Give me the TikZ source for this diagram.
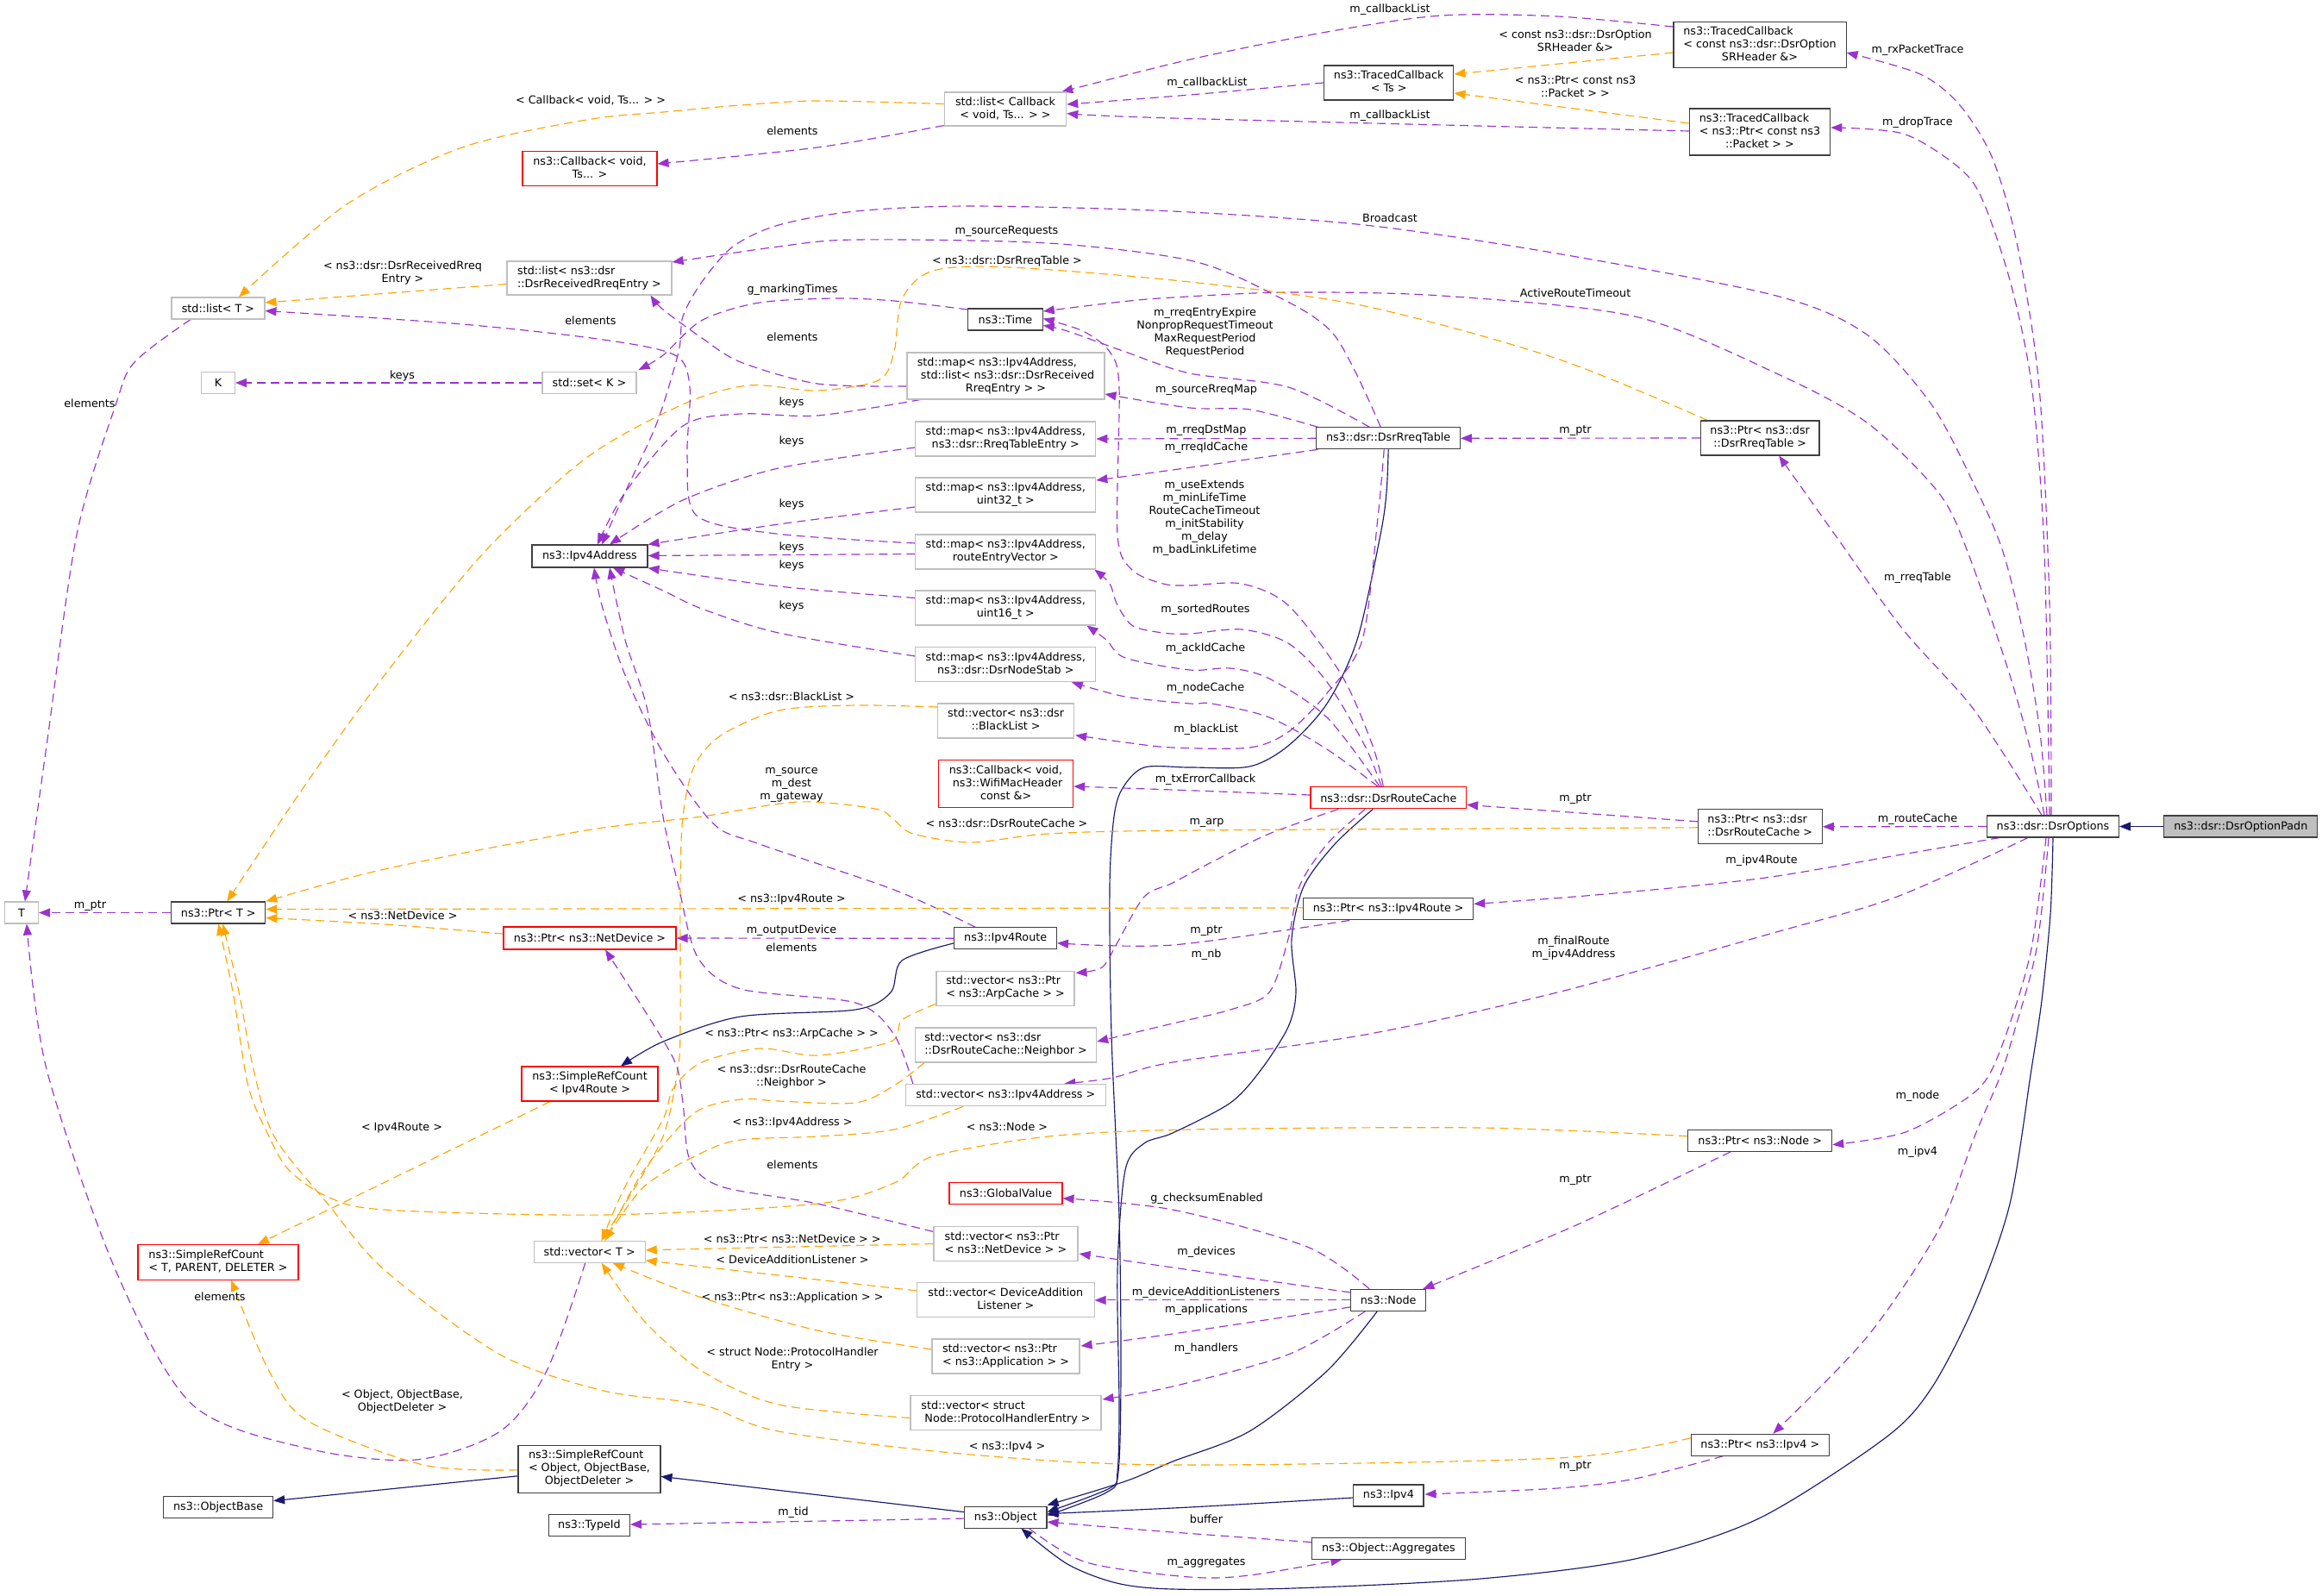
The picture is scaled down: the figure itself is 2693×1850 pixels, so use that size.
\documentclass[tikz,border=0pt]{standalone}
\usepackage{fontspec}
\setmainfont{DejaVu Sans}
\usetikzlibrary{arrows.meta,backgrounds}
\definecolor{dpurple}{HTML}{9A32CD}
\definecolor{dorange}{HTML}{FFA500}
\definecolor{dnavy}{HTML}{191970}
\definecolor{bgray}{HTML}{BFBFBF}
\definecolor{bdark}{HTML}{404040}
\newcommand{\dfont}{\fontsize{12.75}{15}\selectfont}
\newcommand{\twol}[2]{\begin{tabular}{@{}l@{}}#1\\\multicolumn{1}{@{}c@{}}{#2}\end{tabular}}
\newcommand{\threel}[3]{\begin{tabular}{@{}l@{}}#1\\#2\\\multicolumn{1}{@{}c@{}}{#3}\end{tabular}}
\begin{document}
\begin{tikzpicture}[x=1pt,y=-1pt,
 box/.style={draw=bdark, fill=white, line width=1.05pt, inner sep=0pt, font=\dfont, align=center},
 bbox/.style={box, minimum height=25},
 gbox/.style={box, draw=bgray},
 rbox/.style={box, draw=red},
 mem/.style={draw=dpurple, line width=1.15pt, dash pattern=on 10pt off 6pt, -{Triangle[length=13pt,width=10pt]}},
 tpl/.style={mem, draw=dorange},
 inh/.style={draw=dnavy, line width=1.15pt, -{Triangle[length=13pt,width=10pt]}},
 lab/.style={font=\dfont, align=center, inner sep=0pt}
]
\useasboundingbox (0,0) rectangle (2693,1850);

% ---------------- nodes ----------------
\node[bbox, fill=bgray, minimum width=178] (padn) at (2598.8,958.5) {ns3::dsr::DsrOptionPadn};
\node[bbox, minimum width=153] (opts) at (2381,958.5) {ns3::dsr::DsrOptions};
\node[box, minimum width=200, minimum height=53.5] (tcsr) at (2041,52) {\threel{ns3::TracedCallback}{< const ns3::dsr::DsrOption}{SRHeader \&>}};
\node[box, minimum width=150.5, minimum height=40] (tcts) at (1610.7,96) {\twol{ns3::TracedCallback}{< Ts >}};
\node[box, minimum width=163.5, minimum height=54] (tcpk) at (2041,153) {\threel{ns3::TracedCallback}{< ns3::Ptr< const ns3}{::Packet > >}};
\node[gbox, minimum width=141.5, minimum height=39] (lcb) at (1166,126.5) {\twol{std::list< Callback}{< void, Ts... > >}};
\node[rbox, minimum width=156, minimum height=40] (cbts) at (684,195.5) {\twol{ns3::Callback< void,}{Ts... >}};
\node[gbox, minimum width=191, minimum height=39] (lrre) at (683.5,322.5) {\twol{std::list< ns3::dsr}{::DsrReceivedRreqEntry >}};
\node[gbox, minimum width=108, minimum height=25] (listT) at (253,357.5) {std::list< T >};
\node[gbox, minimum width=39, minimum height=25] (K) at (253,444) {K};
\node[gbox, minimum width=109, minimum height=25] (setK) at (683.5,444) {std::set< K >};
\node[gbox, minimum width=39, minimum height=25] (T) at (25,1058.5) {T};
\node[bbox, minimum width=109] (ptrT) at (253.3,1058.5) {ns3::Ptr< T >};
\node[bbox, minimum width=86.5] (time) at (1166,370.5) {ns3::Time};
\node[gbox, minimum width=229, minimum height=54] (map1) at (1166.5,436) {\threel{std::map< ns3::Ipv4Address,}{\ std::list< ns3::dsr::DsrReceived}{RreqEntry > >}};
\node[gbox, minimum width=209, minimum height=40] (map2) at (1166.3,509) {\twol{std::map< ns3::Ipv4Address,}{ns3::dsr::RreqTableEntry >}};
\node[gbox, minimum width=209, minimum height=40] (map3) at (1166.3,574) {\twol{std::map< ns3::Ipv4Address,}{uint32\_t >}};
\node[gbox, minimum width=209, minimum height=40] (map4) at (1166.3,640) {\twol{std::map< ns3::Ipv4Address,}{routeEntryVector >}};
\node[gbox, minimum width=209, minimum height=40] (map5) at (1166.3,705) {\twol{std::map< ns3::Ipv4Address,}{uint16\_t >}};
\node[gbox, minimum width=209, minimum height=40] (map6) at (1166.3,770.6) {\twol{std::map< ns3::Ipv4Address,}{ns3::dsr::DsrNodeStab >}};
\node[bbox, minimum width=134, minimum height=26] (ipv4a) at (684,645) {ns3::Ipv4Address};
\node[bbox, minimum width=166.5] (rreqt) at (1610.2,508.3) {ns3::dsr::DsrRreqTable};
\node[box, minimum width=137.5, minimum height=40] (prreq) at (2041.2,508) {\twol{ns3::Ptr< ns3::dsr}{::DsrRreqTable >}};
\node[gbox, minimum width=158, minimum height=40] (vbl) at (1166.6,836) {\twol{std::vector< ns3::dsr}{::BlackList >}};
\node[rbox, minimum width=156, minimum height=55] (cbwifi) at (1166.6,909) {\threel{ns3::Callback< void,}{\ ns3::WifiMacHeader}{const \&>}};
\node[rbox, minimum width=180.6, minimum height=25] (rcache) at (1610.3,925.4) {ns3::dsr::DsrRouteCache};
\node[box, minimum width=144, minimum height=40] (prc) at (2041.3,958.8) {\twol{ns3::Ptr< ns3::dsr}{::DsrRouteCache >}};
\node[bbox, minimum width=197] (pipr) at (1610.2,1054.4) {ns3::Ptr< ns3::Ipv4Route >};
\node[bbox, minimum width=118.5] (ipr) at (1166.2,1088.3) {ns3::Ipv4Route};
\node[rbox, minimum width=200, minimum height=26] (pnd) at (684,1088) {ns3::Ptr< ns3::NetDevice >};
\node[gbox, minimum width=160, minimum height=40] (varp) at (1166,1146.3) {\twol{std::vector< ns3::Ptr}{< ns3::ArpCache > >}};
\node[gbox, minimum width=210, minimum height=40] (vnb) at (1166.6,1212) {\twol{std::vector< ns3::dsr}{::DsrRouteCache::Neighbor >}};
\node[rbox, minimum width=158, minimum height=40] (srcIpr) at (684,1257) {\twol{ns3::SimpleRefCount}{< Ipv4Route >}};
\node[gbox, minimum width=232, minimum height=25.5] (vipa) at (1166.3,1270.2) {std::vector< ns3::Ipv4Address >};
\node[bbox, minimum width=167] (pnode) at (2041.2,1322.7) {ns3::Ptr< ns3::Node >};
\node[rbox, minimum width=131, minimum height=25] (gv) at (1166.5,1383.8) {ns3::GlobalValue};
\node[gbox, minimum width=167, minimum height=40] (vnd) at (1166.5,1442.5) {\twol{std::vector< ns3::Ptr}{< ns3::NetDevice > >}};
\node[gbox, minimum width=129, minimum height=25] (vecT) at (683.7,1451.8) {std::vector< T >};
\node[rbox, minimum width=186, minimum height=40.5] (srcT) at (253,1463.8) {\twol{ns3::SimpleRefCount}{< T, PARENT, DELETER >}};
\node[gbox, minimum width=205.5, minimum height=40] (vdal) at (1166.3,1507.9) {\twol{std::vector< DeviceAddition}{Listener >}};
\node[gbox, minimum width=171, minimum height=40] (vapp) at (1166.5,1573) {\twol{std::vector< ns3::Ptr}{< ns3::Application > >}};
\node[gbox, minimum width=221, minimum height=40] (vph) at (1166.5,1638.5) {\twol{std::vector< struct}{\ Node::ProtocolHandlerEntry >}};
\node[bbox, minimum width=160] (pipv4) at (2041.3,1675.7) {ns3::Ptr< ns3::Ipv4 >};
\node[bbox, minimum width=87] (nnode) at (1610.2,1507.9) {ns3::Node};
\node[bbox, minimum width=81.2] (ipv4) at (1610.4,1734.5) {ns3::Ipv4};
\node[box, minimum width=165, minimum height=54.5] (srcObj) at (683.5,1703.8) {\threel{ns3::SimpleRefCount}{< Object, ObjectBase,}{ObjectDeleter >}};
\node[bbox, minimum width=127] (objb) at (253.1,1747.6) {ns3::ObjectBase};
\node[bbox, minimum width=94] (typeid) at (683.5,1769) {ns3::TypeId};
\node[bbox, minimum width=95.2] (object) at (1166.4,1759.6) {ns3::Object};
\node[bbox, minimum width=177.7] (agg) at (1610.4,1795.6) {ns3::Object::Aggregates};

% ---------------- edges (behind the boxes) ----------------
\begin{scope}[on background layer]
\fill[white] (0,0) rectangle (2693,1850);
\draw[inh] (padn.west) -- (opts.east);
% DsrOptions
\draw[mem] plot[smooth] coordinates {([shift={(-2,0)}]opts.north) (2377,700) (2365,449) (2340,286) (2311,184) (2273,122) (2227,86) ([shift={(0,9)}]tcsr.east)};
\draw[mem] plot[smooth] coordinates {([shift={(-4,0)}]opts.north) (2371,640) (2356.5,449) (2331.5,327) (2298,229) (2269,192) (2207,155) ([shift={(0,-5)}]tcpk.east)};
\draw[mem] plot[smooth] coordinates {([shift={(-7,0)}]opts.north) (2366,850) (2348,742) (2323,640) (2290,563) (2240,469) (2165,388) (2060,343) (1806,294) (1583,261) (1360,245) (1126,239) (992,245) (903,261) (850,286) (814,327) (792,367) (787,408) (762,490) (725,571) ([shift={(14,0)}]ipv4a.north)};
\draw[mem] plot[smooth] coordinates {([shift={(-10,0)}]opts.north) (2355,870) (2330,780) (2282,640) (2248,571) (2165,490) (2060,433) (1896,367) (1672,343) (1494,339) (1360,345) (1300,350) ([shift={(0,-9.5)}]time.east)};
\draw[mem] plot[smooth] coordinates {([shift={(-13,0)}]opts.north) (2290,824) (2207,730) (2128,620) ([shift={(22,0)}]prreq.south)};
\draw[mem] (opts.west) -- (prc.east);
\draw[mem] plot[smooth] coordinates {([shift={(-62,0)}]opts.south) (2200,992) (2040,1019) (1850,1038) ([shift={(0,-6)}]pipr.east)};
\draw[mem] plot[smooth] coordinates {([shift={(-29,0)}]opts.south) (2200,1040) (2060,1081) (1806,1151) (1583,1200) (1360,1232) (1290,1250) ([shift={(68,0)}]vipa.north)};
\draw[mem] plot[smooth] coordinates {([shift={(-8,0)}]opts.south) (2356,1100) (2330,1190) (2305,1250) (2273,1279) (2207,1314) ([shift={(0,5)}]pnode.east)};
\draw[mem] plot[smooth] coordinates {([shift={(-5,0)}]opts.south) (2362,1100) (2335,1200) (2319,1250) (2290,1318) (2248,1427) (2165,1551) ([shift={(15,0)}]pipv4.north)};
\draw[inh] plot[smooth] coordinates {(opts.south) (2378,1060) (2368,1160) (2356,1240) (2331,1396) (2290,1513) (2240,1610) (2186,1668) (2040,1761) (1896,1808) (1717,1831) (1500,1842) (1360,1843) (1295,1836) (1238,1814) ([shift={(18,0)}]object.south)};
% traced callbacks
\draw[tpl] ([shift={(0,9)}]tcsr.west) -- ([shift={(0,-10)}]tcts.east);
\draw[tpl] ([shift={(0,-10)}]tcpk.west) -- ([shift={(0,12)}]tcts.east);
\draw[mem] plot[smooth] coordinates {([shift={(0,-21)}]tcsr.west) (1806,19) (1672,18) (1539,37) (1380,69) ([shift={(-6,0)}]lcb.north east)};
\draw[mem] plot[smooth] coordinates {(tcts.west) (1380,110) ([shift={(0,-5.5)}]lcb.east)};
\draw[mem] plot[smooth] coordinates {([shift={(0,-1)}]tcpk.west) (1360,137) ([shift={(0,5)}]lcb.east)};
\draw[mem] plot[smooth] coordinates {([shift={(0,-1)}]lcb.south west) (948,171) ([shift={(0,-5.5)}]cbts.east)};
\draw[tpl] plot[smooth] coordinates {([shift={(0,-6)}]lcb.west) (948,117) (859,122) (769,130) (680,139) (536,171) (402,237) ([shift={(24,0)}]listT.north)};
\draw[tpl] ([shift={(0,7)}]lrre.west) -- ([shift={(0,-6.5)}]listT.east);
\draw[mem] (setK.west) -- (K.east);
\draw[mem] plot[smooth] coordinates {([shift={(-32,0)}]listT.south) (156,420) (134,470) (89,620) (54,865) ([shift={(4,0)}]T.north)};
\draw[mem] (ptrT.west) -- (T.east);
% rreq table
\draw[mem] (prreq.west) -- (rreqt.east);
\draw[tpl] plot[smooth] coordinates {([shift={(-61,0)}]prreq.north) (1806,416) (1583,355) (1380,327) (1171,310) (1082,314) (1046,347) (1037,408) (1019,441) (948,453) (868,447) (792,469) (680,531) (562,640) (446,783) (357,906) ([shift={(10,0)}]ptrT.north)};
\draw[mem] plot[smooth] coordinates {([shift={(-9,0)}]rreqt.north) (1547,388) (1472,339) (1380,302) (1216,282) (992,278) (903,286) ([shift={(0,-18.5)}]lrre.east)};
\draw[mem] plot[smooth] coordinates {([shift={(-22,0)}]rreqt.north) (1494,449) (1380,433) (1305,408) (1238,384) ([shift={(0,7)}]time.east)};
\draw[mem] plot[smooth] coordinates {([shift={(2,0)}]rreqt.north west) (1450,475) (1380,473) ([shift={(0,21)}]map1.east)};
\draw[mem] (rreqt.west) -- (map2.east);
\draw[mem] plot[smooth] coordinates {([shift={(2,0)}]rreqt.south west) (1360,545) ([shift={(0,-17)}]map3.east)};
\draw[inh] plot[smooth] coordinates {(rreqt.south) (1608,571) (1601,620) (1574,742) (1539,816) (1494,865) (1449,889) (1380,890) (1327,890) (1302,914) (1292,947) (1287,1028) (1289,1200) (1298,1411) (1300,1590) (1297,1707) (1283,1731) ([shift={(0,-2)}]object.east)};
\draw[mem] plot[smooth] coordinates {([shift={(-5,0)}]rreqt.south) (1598,600) (1580,742) (1539,804) (1494,849) (1449,867) (1360,867) (1305,861) ([shift={(1,16.7)}]vbl.east)};
% time, maps
\draw[mem] plot[smooth] coordinates {([shift={(0,-11.5)}]time.west) (1037,349) (970,346) (881,351) (814,371.5) (769,412) ([shift={(2,-15)}]setK.east)};
\draw[mem] plot[smooth] coordinates {([shift={(0,12)}]map1.west) (948,445) (859,420) (814,392) (769,359) ([shift={(-25,0)}]lrre.south east)};
\draw[mem] plot[smooth] coordinates {([shift={(16,0)}]map1.south west) (948,482) (859,480) (792,494) (725,571) ([shift={(9,0)}]ipv4a.north)};
\draw[mem] plot[smooth] coordinates {([shift={(0,10)}]map2.west) (903,543) (792,580) ([shift={(23,0)}]ipv4a.north)};
\draw[mem] plot[smooth] coordinates {([shift={(0,14)}]map3.west) (903,608) (ipv4a.north east)};
\draw[mem] ([shift={(0,2.5)}]map4.west) -- ([shift={(0,-0.5)}]ipv4a.east);
\draw[mem] plot[smooth] coordinates {([shift={(0,-10)}]map4.west) (900,619) (808,598) (797,530) (800,449) (783,412) (700,394) (536,376) ([shift={(0,3)}]listT.east)};
\draw[mem] plot[smooth] coordinates {([shift={(0,-11.5)}]map5.west) (903,680) ([shift={(0,13.8)}]ipv4a.east)};
\draw[mem] plot[smooth] coordinates {([shift={(0,-9.6)}]map6.west) (903,734) (814,706) (769,685) ([shift={(27,0)}]ipv4a.south)};
% route cache
\draw[mem] plot[smooth] coordinates {([shift={(-6,0)}]rcache.north) (1592,865) (1556,783) (1494,702) (1440,677) (1380,679) (1349,677) (1313,661) (1296,620) (1298,449) (1287,408) (1256,384) ([shift={(0,-1)}]time.east)};
\draw[mem] plot[smooth] coordinates {([shift={(-8,0)}]rcache.north) (1583,865) (1539,791) (1494,746) (1440,730) (1380,735) (1349,734) (1314,726) (1296,702) (1287,677) ([shift={(-2,0)}]map4.south east)};
\draw[mem] plot[smooth] coordinates {([shift={(-10,0)}]rcache.north) (1539,832) (1472,787) (1427,775) (1380,777) (1305,763) (1283,742) ([shift={(-11,0)}]map5.south east)};
\draw[mem] plot[smooth] coordinates {([shift={(-12,0)}]rcache.north) (1539,869) (1472,832) (1405,816) (1380,816) (1305,808) ([shift={(-28.5,0)}]map6.south east)};
\draw[mem] plot[smooth] coordinates {([shift={(0,-3.4)}]rcache.west) (1360,916) ([shift={(0,3)}]cbwifi.east)};
\draw[mem] plot[smooth] coordinates {([shift={(-58,0)}]rcache.south) (1472,967) (1405,1000) (1360,1024) (1327,1040) (1296,1093) (1278,1122) ([shift={(1,-18)}]varp.east)};
\draw[mem] plot[smooth] coordinates {([shift={(-27,0)}]rcache.south) (1539,979) (1507,1028) (1494,1089) (1472,1151) (1427,1171) (1360,1187) ([shift={(0,-4)}]vnb.east)};
\draw[inh] plot[smooth] coordinates {([shift={(-18,0)}]rcache.south) (1548,979) (1512,1028) (1498,1089) (1503,1151) (1494,1191) (1463,1240) (1427,1279) (1360,1314) (1327,1326) (1305,1357) (1296,1473) (1298,1629) (1296,1707) (1287,1726) ([shift={(0,-6)}]object.east)};
\draw[mem] ([shift={(0,-6)}]prc.west) -- ([shift={(0,8)}]rcache.east);
\draw[tpl] plot[smooth] coordinates {([shift={(0,1)}]prc.west) (1380,963) (1216,967) (1126,977) (1059,967) (1037,951) (1015,938) (925,930) (814,947) (680,963) (446,1008) (ptrT.north east)};
% ipv4 route
\draw[inh] plot[smooth] coordinates {([shift={(0,5.5)}]ipr.west) (1046,1114) (1033,1151) (992,1171) (859,1179) (769,1208) ([shift={(36,0)}]srcIpr.north)};
\draw[mem] plot[smooth] coordinates {([shift={(-35,0)}]ipr.north) (1037,1032) (881,979) (827,955) (769,873) (725,783) (698,702) ([shift={(5,0)}]ipv4a.south)};
\draw[mem] (ipr.west) -- (pnd.east);
\draw[mem] plot[smooth] coordinates {([shift={(-45,0)}]pipr.south) (1360,1096) ([shift={(0,5.5)}]ipr.east)};
\draw[tpl] ([shift={(0,-1.5)}]pipr.west) -- ([shift={(0,-4)}]ptrT.east);
\draw[tpl] plot[smooth] coordinates {([shift={(0,-5)}]pnd.west) (446,1072) ([shift={(0,6)}]ptrT.east)};
\draw[tpl] ([shift={(-46,0)}]srcIpr.south) -- ([shift={(46,0)}]srcT.north);
% vectors
\draw[tpl] plot[smooth] coordinates {([shift={(0,-16)}]vbl.west) (992,818) (903,824) (836,853) (805,889) (792,947) (789,1028) (789,1191) (786,1240) (769,1318) (725,1396) ([shift={(14,0)}]vecT.north)};
\draw[tpl] plot[smooth] coordinates {([shift={(0,18)}]varp.west) (1046,1183) (1033,1208) (948,1224) (881,1216) (814,1232) (781,1262) (769,1298) (725,1376) ([shift={(14,0)}]vecT.north)};
\draw[tpl] plot[smooth] coordinates {([shift={(11,0)}]vnb.south west) (1037,1259) (992,1279) (903,1277) (859,1275) (805,1291) (747,1357) ([shift={(18,0)}]vecT.north)};
\draw[tpl] plot[smooth] coordinates {([shift={(67,0)}]vipa.south west) (1037,1310) (948,1318) (859,1322) (814,1337) (747,1376) ([shift={(18,0)}]vecT.north)};
\draw[mem] plot[smooth] coordinates {([shift={(9,0)}]vipa.north west) (1037,1200) (992,1163) (859,1147) (809,1110) (787,1028) (769,947) (751,824) (725,742) ([shift={(23,0)}]ipv4a.south)};
\draw[mem] plot[smooth] coordinates {([shift={(0,-14)}]vnd.west) (948,1396) (836,1376) (800,1345) (792,1279) (783,1232) (747,1171) ([shift={(18,0)}]pnd.south)};
\draw[tpl] (vnd.west) -- ([shift={(0,-2)}]vecT.east);
\draw[tpl] ([shift={(0,-11)}]vdal.west) -- ([shift={(0,10)}]vecT.east);
\draw[tpl] plot[smooth] coordinates {([shift={(0,-8)}]vapp.west) (948,1543) (814,1505) ([shift={(27,0)}]vecT.south)};
\draw[tpl] plot[smooth] coordinates {([shift={(0,6)}]vph.west) (903,1629) (814,1590) (747,1532) ([shift={(14,0)}]vecT.south)};
\draw[mem] plot[smooth] coordinates {([shift={(-5,0)}]vecT.south) (634,1590) (580,1660) (482,1693) (357,1680) (223,1629) (134,1473) (54,1240) ([shift={(6,0)}]T.south)};
% node
\draw[tpl] plot[smooth] coordinates {([shift={(0,-5)}]pnode.west) (1717,1308) (1380,1310) (1216,1318) (1082,1341) (1037,1372) (948,1396) (700,1409) (446,1403) (380,1388) (335,1357) (312,1318) (288,1260) (270,1150) (ptrT.south)};
\draw[mem] plot[smooth] coordinates {([shift={(-34,0)}]pnode.south) (1830,1420) ([shift={(-4,0)}]nnode.north east)};
\draw[mem] plot[smooth] coordinates {([shift={(-22,0)}]nnode.north) (1516,1446) (1360,1403) ([shift={(0,6)}]gv.east)};
\draw[mem] plot[smooth] coordinates {([shift={(0,-9)}]nnode.west) (1360,1470) ([shift={(1,11.5)}]vnd.east)};
\draw[mem] (nnode.west) -- (vdal.east);
\draw[mem] plot[smooth] coordinates {([shift={(0,8)}]nnode.west) (1360,1547) ([shift={(1,-12)}]vapp.east)};
\draw[mem] plot[smooth] coordinates {([shift={(-27,0)}]nnode.south) (1494,1571) (1360,1608) ([shift={(1,-15.5)}]vph.east)};
\draw[inh] plot[smooth] coordinates {([shift={(-13,0)}]nnode.south) (1539,1590) (1449,1660) (1360,1695) (1305,1718) ([shift={(0,-14)}]object.east)};
% ipv4
\draw[mem] plot[smooth] coordinates {([shift={(-43,0)}]pipv4.south) (1896,1715) (1806,1726) ([shift={(1,-1.5)}]ipv4.east)};
\draw[tpl] plot[smooth] coordinates {([shift={(0,-8)}]pipv4.west) (1806,1691) (1360,1699) (1126,1687) (903,1660) (814,1629) (700,1613) (580,1571) (446,1473) (380,1396) (318,1318) (294,1240) (277,1150) ([shift={(5,0)}]ptrT.south)};
\draw[inh] plot[smooth] coordinates {([shift={(0,2.5)}]ipv4.west) (1380,1748) ([shift={(0,-4)}]object.east)};
% object
\draw[inh] ([shift={(0,-6)}]object.west) -- ([shift={(0,8.6)}]srcObj.east);
\draw[mem] ([shift={(0,1.5)}]object.west) -- ([shift={(0,-1)}]typeid.east);
\draw[inh] ([shift={(0,8)}]srcObj.west) -- ([shift={(0,-7)}]objb.east);
\draw[tpl] plot[smooth] coordinates {([shift={(0,1)}]srcObj.west) (491,1699) (357,1648) (312,1590) ([shift={(15,0)}]srcT.south)};
\draw[mem] plot[smooth] coordinates {([shift={(0,-7)}]agg.west) (1360,1777) ([shift={(0,5.5)}]object.east)};
\draw[mem] plot[smooth] coordinates {([shift={(27,0)}]object.south) (1260,1812) (1380,1829) (1449,1827) ([shift={(-54,0)}]agg.south)};
\end{scope}

% ---------------- labels ----------------
\node[lab] (l1) at (2224,58.4) {m\_rxPacketTrace};
\node[lab] (l2) at (2224,142.5) {m\_dropTrace};
\node[lab] (l3) at (1612,11.4) {m\_callbackList};
\node[lab] (l4) at (1400,96.3) {m\_callbackList};
\node[lab] (l5) at (1612,134.3) {m\_callbackList};
\node[lab] (l6) at (1827,47.7) {< const ns3::dsr::DsrOption\\SRHeader \&>};
\node[lab] (l7) at (1827,100) {< ns3::Ptr< const ns3\\::Packet > >};
\node[lab] (l8) at (919,151.5) {elements};
\node[lab] (l9) at (685,116) {< Callback< void, Ts... > >};
\node[lab] (l10) at (467,316) {< ns3::dsr::DsrReceivedRreq\\Entry >};
\node[lab] (l11) at (466.5,435.6) {keys};
\node[lab] (l12) at (104,468) {elements};
\node[lab] (l13) at (685,371.5) {elements};
\node[lab] (l14) at (1612,252.3) {Broadcast};
\node[lab] (l15) at (1827,339.6) {ActiveRouteTimeout};
\node[lab] (l16) at (1167.5,268.6) {m\_sourceRequests};
\node[lab] (l17) at (1168,302.5) {< ns3::dsr::DsrRreqTable >};
\node[lab] (l18) at (919,336.4) {g\_markingTimes};
\node[lab] (l19) at (919,390.7) {elements};
\node[lab] (l20) at (918,466.6) {keys};
\node[lab] (l21) at (918,512.3) {keys};
\node[lab] (l22) at (918,584.6) {keys};
\node[lab] (l23) at (918,635) {keys};
\node[lab] (l24) at (918,656.3) {keys};
\node[lab] (l25) at (918,702.5) {keys};
\node[lab] (l26) at (1397.5,385.5) {m\_rreqEntryExpire\\NonpropRequestTimeout\\MaxRequestPeriod\\RequestPeriod};
\node[lab] (l27) at (1399,452.3) {m\_sourceRreqMap};
\node[lab] (l28) at (1399,499.6) {m\_rreqDstMap};
\node[lab] (l29) at (1399,519.2) {m\_rreqIdCache};
\node[lab] (l30) at (1827,499.6) {m\_ptr};
\node[lab] (l31) at (2224,670.6) {m\_rreqTable};
\node[lab] (l32) at (1397,600.8) {m\_useExtends\\m\_minLifeTime\\RouteCacheTimeout\\m\_initStability\\m\_delay\\m\_badLinkLifetime};
\node[lab] (l33) at (1398,707.4) {m\_sortedRoutes};
\node[lab] (l34) at (1398,752.3) {m\_ackIdCache};
\node[lab] (l35) at (1398,798.4) {m\_nodeCache};
\node[lab] (l36) at (1398.7,846.6) {m\_blackList};
\node[lab] (l37) at (1398,904) {m\_txErrorCallback};
\node[lab] (l38) at (1827,927) {m\_ptr};
\node[lab] (l39) at (1399.5,954.7) {m\_arp};
\node[lab] (l40) at (2224,950.6) {m\_routeCache};
\node[lab] (l41) at (2043,998.5) {m\_ipv4Route};
\node[lab] (l42) at (1825,1099.9) {m\_finalRoute\\m\_ipv4Address};
\node[lab] (l43) at (1399,1079.6) {m\_ptr};
\node[lab] (l44) at (1399,1107.4) {m\_nb};
\node[lab] (l45) at (918,808) {< ns3::dsr::BlackList >};
\node[lab] (l46) at (918,910) {m\_source\\m\_dest\\m\_gateway};
\node[lab] (l47) at (1167.5,955) {< ns3::dsr::DsrRouteCache >};
\node[lab] (l48) at (918,1043) {< ns3::Ipv4Route >};
\node[lab] (l49) at (918,1079.6) {m\_outputDevice};
\node[lab] (l50) at (918,1099.2) {elements};
\node[lab] (l51) at (467,1062) {< ns3::NetDevice >};
\node[lab] (l52) at (104.5,1050.7) {m\_ptr};
\node[lab] (l53) at (918,1199) {< ns3::Ptr< ns3::ArpCache > >};
\node[lab] (l54) at (918,1248.5) {< ns3::dsr::DsrRouteCache\\::Neighbor >};
\node[lab] (l55) at (919,1302) {< ns3::Ipv4Address >};
\node[lab] (l56) at (1168,1307) {< ns3::Node >};
\node[lab] (l57) at (2224,1271.5) {m\_node};
\node[lab] (l58) at (2224,1335.7) {m\_ipv4};
\node[lab] (l59) at (919,1350.5) {elements};
\node[lab] (l60) at (466,1308.5) {< Ipv4Route >};
\node[lab] (l61) at (1399.5,1390) {g\_checksumEnabled};
\node[lab] (l62) at (1827,1368.8) {m\_ptr};
\node[lab] (l63) at (918.8,1436.4) {< ns3::Ptr< ns3::NetDevice > >};
\node[lab] (l64) at (919,1460.6) {< DeviceAdditionListener >};
\node[lab] (l65) at (919,1504.5) {< ns3::Ptr< ns3::Application > >};
\node[lab] (l66) at (919,1576) {< struct Node::ProtocolHandler\\Entry >};
\node[lab] (l67) at (1399,1452.4) {m\_devices};
\node[lab] (l68) at (1398.5,1499.5) {m\_deviceAdditionListeners};
\node[lab] (l69) at (1399,1519.3) {m\_applications};
\node[lab] (l70) at (1399,1564.4) {m\_handlers};
\node[lab] (l71) at (255,1503.4) {elements};
\node[lab] (l72) at (1168,1678.4) {< ns3::Ipv4 >};
\node[lab] (l73) at (1827,1700.6) {m\_ptr};
\node[lab] (l74) at (466.5,1625.5) {< Object, ObjectBase,\\ObjectDeleter >};
\node[lab] (l75) at (920,1754) {m\_tid};
\node[lab] (l76) at (1399,1762) {buffer};
\node[lab] (l77) at (1399,1812.6) {m\_aggregates};
\end{tikzpicture}
\end{document}
